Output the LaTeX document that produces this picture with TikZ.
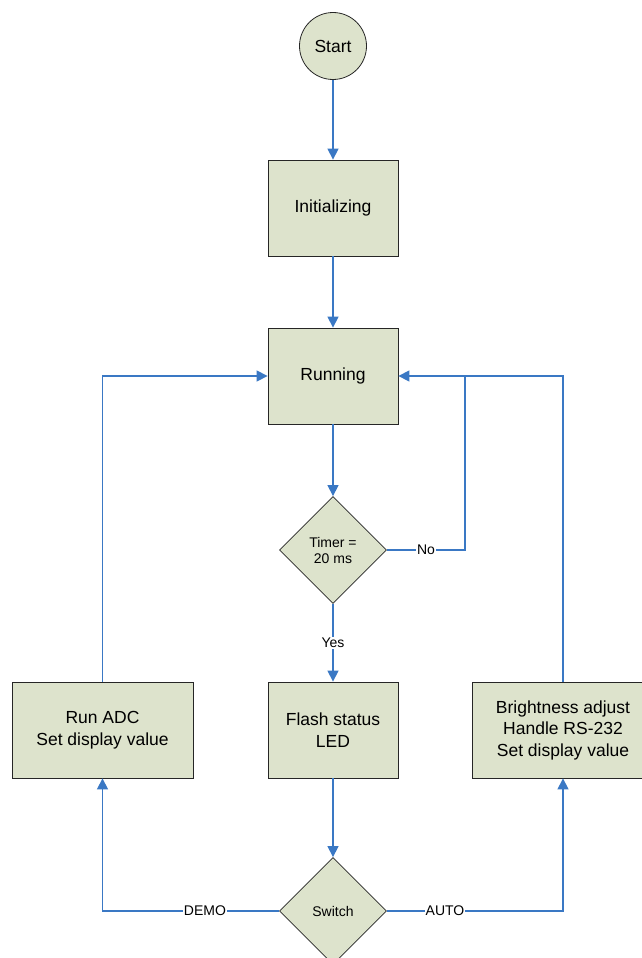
\documentclass[tikz,border=0pt]{standalone}
\usepackage{fontspec}
\setmainfont{Liberation Sans}
\usetikzlibrary{shapes.geometric,arrows.meta}
\definecolor{boxfill}{RGB}{221,227,204}
\definecolor{flowblue}{RGB}{58,120,196}
\begin{document}
\begin{tikzpicture}[x=1pt,y=-1pt,
    box/.style={draw=black!85, line width=0.8pt, fill=boxfill, minimum width=130pt,
      minimum height=96pt, align=center, inner sep=0pt, font=\fontsize{17.5}{21.5}\selectfont},
    widebox/.style={box, minimum width=182pt},
    decision/.style={diamond, aspect=1, draw=black!85, line width=0.8pt, fill=boxfill,
      minimum width=107pt, minimum height=107pt, inner sep=1pt, align=center,
      font=\fontsize{14}{16}\selectfont},
    flow/.style={draw=flowblue, line width=1.3pt, -{Triangle[length=11pt,width=11pt]}},
    lbl/.style={fill=white, inner sep=1pt, font=\fontsize{14}{16}\selectfont}]
        \clip (0,0) rectangle (642,958);

        \node[circle, draw=black!85, line width=0.8pt, fill=boxfill, minimum size=67pt,
          inner sep=0pt, font=\fontsize{17.5}{21.5}\selectfont] (1) at (333,46) {Start};
        \node[box] (2) at (333,208) {Initializing};
        \node[box] (3) at (333,376) {Running};
        \node[decision] (4) at (333,550) {Timer =\\20 ms};
        \node[box] (5) at (333,730) {Flash status\\LED};
        \node[decision] (6) at (333,911) {Switch};
        \node[widebox, minimum width=181pt] (7) at (102.5,730) {Run ADC\\Set display value};
        \node[widebox] (8) at (563,730) {Brightness adjust\\Handle RS-232\\Set display value};
        \coordinate (j) at (465,376);

        \draw[flow] (1) -- (2);
        \draw[flow] (2) -- (3);
        \draw[flow] (3) -- (4);
        \draw[flow] (4) -- node[lbl] {Yes} (5);
        \draw[flow] (5) -- (6);
        \draw[flow, -] (4.east) -- node[lbl] {No} (4.east -| j) -- (j);
        \draw[flow] (8.north) |- (3.east);
        \draw[flow] (7.north) |- (3.west);
        \draw[flow] (6.west) -- node[lbl, pos=0.42] {DEMO} (6.west -| 7.south) -- (7.south);
        \draw[flow] (6.east) -- node[lbl, pos=0.33] {AUTO} (6.east -| 8.south) -- (8.south);
\end{tikzpicture}
\end{document}
